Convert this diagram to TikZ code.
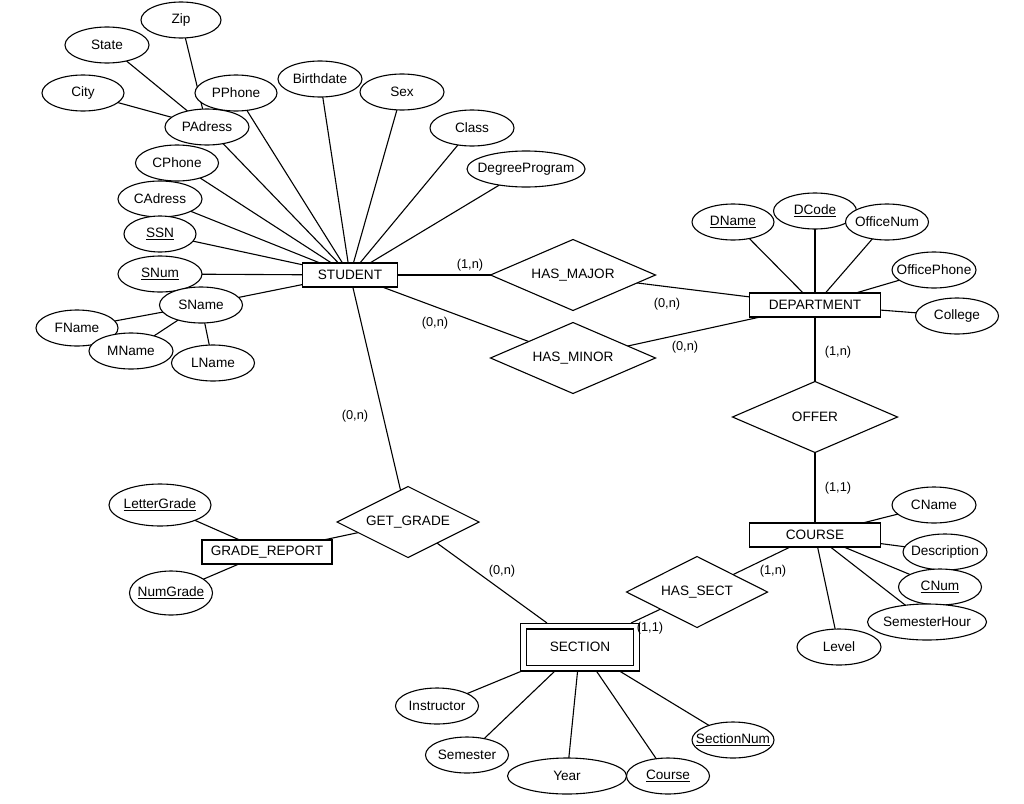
\documentclass[tikz,border=0pt]{standalone}
\usepackage{fontspec}
\setmainfont{Liberation Sans}
\usetikzlibrary{shapes.geometric,backgrounds}
\newcommand\lbl[1]{\makebox[0pt]{#1}}
\tikzset{
  base/.style={inner sep=0pt, outer sep=0pt, line width=1.1pt, font=\fontsize{13.6}{15}\selectfont},
  attr/.style={base, ellipse, draw, fill=white, minimum width=#1, minimum height=36},
  attr/.default=84,
  ent/.style={base, rectangle, draw, fill=white, minimum width=#1, minimum height=24},
  ent/.default=131,
  rel/.style={base, diamond, draw, fill=white, minimum width=#1, minimum height=71},
  rel/.default=165,
  card/.style={inner sep=0pt, font=\fontsize{12.8}{14}\selectfont},
  conn/.style={line width=1.1pt}
}
\begin{document}
\begin{tikzpicture}[x=1pt,y=-1pt]
\useasboundingbox (0,0) rectangle (1024,803);
% entities
\node[ent=95] (student) at (350,275) {\lbl{STUDENT}};
\node[ent] (dept) at (815,305) {\lbl{DEPARTMENT}};
\node[ent] (course) at (815,535) {\lbl{COURSE}};
\node[ent=130] (grade) at (267,552) {\lbl{GRADE\_REPORT}};
\node[base, rectangle, draw, double, double distance=4.8pt, outer sep=3pt, minimum width=113, minimum height=42] (section) at (580,647) {\lbl{SECTION}};
% relationships
\node[rel] (major) at (573,275) {\lbl{HAS\_MAJOR}};
\node[rel] (minor) at (573,358) {\lbl{HAS\_MINOR}};
\node[rel] (offer) at (815,417) {\lbl{OFFER}};
\node[rel=141] (hassect) at (697,592) {\lbl{HAS\_SECT}};
\node[rel=142] (getgrade) at (408,522) {\lbl{GET\_GRADE}};
% student attributes
\node[attr=80] (zip) at (181,20) {\lbl{Zip}};
\node[attr] (state) at (107,45) {\lbl{State}};
\node[attr=82] (city) at (83,93) {\lbl{City}};
\node[attr] (padress) at (207,127) {\lbl{PAdress}};
\node[attr=82] (pphone) at (236,93) {\lbl{PPhone}};
\node[attr] (birth) at (320,79) {\lbl{Birthdate}};
\node[attr] (sex) at (402,92) {\lbl{Sex}};
\node[attr] (class) at (472,128) {\lbl{Class}};
\node[attr=118] (degree) at (526,169) {\lbl{DegreeProgram}};
\node[attr=83] (cphone) at (177,163) {\lbl{CPhone}};
\node[attr] (cadress) at (160,199) {\lbl{CAdress}};
\node[attr=72] (ssn) at (160,234) {\lbl{\underline{SSN}}};
\node[attr] (snum) at (160,274) {\lbl{\underline{SNum}}};
\node[attr=83] (sname) at (201,305) {\lbl{SName}};
\node[attr=82] (fname) at (77,328) {\lbl{FName}};
\node[attr] (mname) at (131,351) {\lbl{MName}};
\node[attr=83] (lname) at (213,363) {\lbl{LName}};
% department attributes
\node[attr=82] (dname) at (733,222) {\lbl{\underline{DName}}};
\node[attr=83] (dcode) at (815,211) {\lbl{\underline{DCode}}};
\node[attr=83] (officenum) at (887,222) {\lbl{OfficeNum}};
\node[attr] (officephone) at (934,270) {\lbl{OfficePhone}};
\node[attr=83] (college) at (957,316) {\lbl{College}};
% course attributes
\node[attr] (cname) at (934,505) {\lbl{CName}};
\node[attr] (descr) at (945,552) {\lbl{Description}};
\node[attr=83] (cnum) at (940,587) {\lbl{\underline{CNum}}};
\node[attr=119] (semhour) at (927,622) {\lbl{SemesterHour}};
\node[attr] (level) at (839,647) {\lbl{Level}};
% section attributes
\node[attr=83] (instr) at (437,706) {\lbl{Instructor}};
\node[attr=83] (semester) at (467,755) {\lbl{Semester}};
\node[attr=119] (year) at (567,776) {\lbl{Year}};
\node[attr=83] (coursek) at (668,776) {\lbl{\underline{Course}}};
\node[attr=82] (secnum) at (733,740) {\lbl{\underline{SectionNum}}};
% grade report attributes
\node[attr=102, minimum height=42] (letter) at (160,505) {\lbl{\underline{LetterGrade}}};
\node[attr=83, minimum height=44] (numgrade) at (171,593) {\lbl{\underline{NumGrade}}};
\begin{pgfonlayer}{background}
% attribute connectors
\foreach \a in {padress,pphone,birth,sex,class,degree,cphone,cadress,ssn,snum,sname}
  \draw[conn] (\a) -- (student);
\foreach \a in {zip,state,city} \draw[conn] (\a) -- (padress);
\foreach \a in {fname,mname,lname} \draw[conn] (\a) -- (sname);
\foreach \a in {dname,dcode,officenum,officephone,college} \draw[conn] (\a) -- (dept);
\foreach \a in {cname,descr,cnum,semhour,level} \draw[conn] (\a) -- (course);
\foreach \a in {instr,semester,year,coursek,secnum} \draw[conn] (\a) -- (section);
\foreach \a in {letter,numgrade} \draw[conn] (\a) -- (grade);
% relationship connectors
\draw[conn] (student) -- (major);
\draw[conn] (major) -- (dept);
\draw[conn] (student) -- (minor);
\draw[conn] (minor) -- (dept);
\draw[conn] (dept) -- (offer);
\draw[conn] (offer) -- (course);
\draw[conn] (course) -- (hassect);
\draw[conn] (hassect) -- (section);
\draw[conn] (student) -- (getgrade);
\draw[conn] (getgrade) -- (section);
\draw[conn] (getgrade) -- (grade);
\end{pgfonlayer}
% cardinalities
\node[card] (c1) at (470,265) {(1,n)};
\node[card] (c2) at (667,304) {(0,n)};
\node[card] (c3) at (435,323) {(0,n)};
\node[card] (c4) at (685,347) {(0,n)};
\node[card] (c5) at (838,352) {(1,n)};
\node[card] (c6) at (838,488) {(1,1)};
\node[card] (c7) at (355,416) {(0,n)};
\node[card] (c8) at (502,571) {(0,n)};
\node[card] (c9) at (773,571) {(1,n)};
\node[card] (c10) at (650,628) {(1,1)};
\end{tikzpicture}
\end{document}
